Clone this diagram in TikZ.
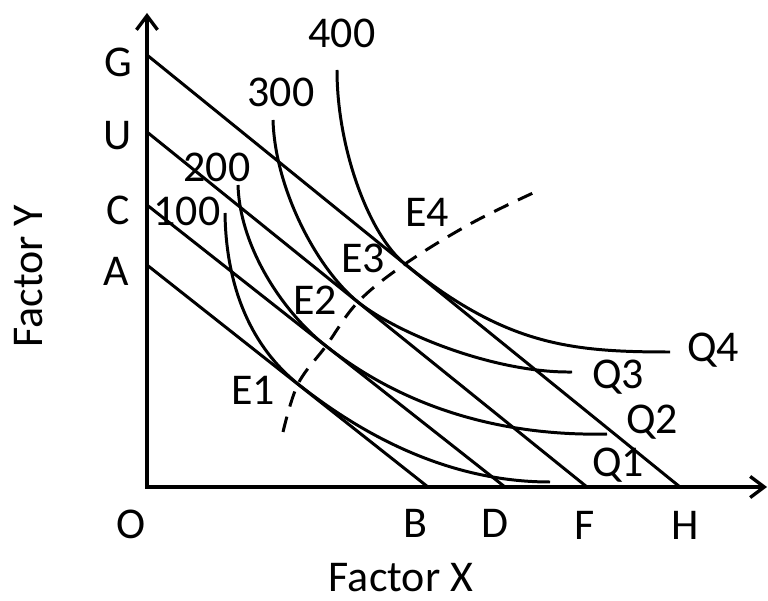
\documentclass[tikz,border=0pt]{standalone}
\usepackage{fontspec}
\setmainfont{Carlito}
\usetikzlibrary{arrows.meta}

\begin{document}
\begin{tikzpicture}[
  x=0.02cm, y=-0.02cm,
  axis/.style    = {line width=1.9pt, line join=miter,
                    {Straight Barb[length=8pt,width=12pt]}-{Straight Barb[length=8pt,width=12pt]}},
  budget/.style  = {line width=1.7pt},
  iso/.style     = {line width=1.7pt},
  exppath/.style = {line width=1.7pt, dash pattern=on 9pt off 6pt},
  lbl/.style     = {inner sep=0pt, font=\fontsize{25}{30}\selectfont},
]
  \useasboundingbox (0,0) rectangle (768,601);

  % Axes
  \coordinate (O)    at (147,487);
  \coordinate (ytop) at (147,13);
  \coordinate (xend) at (767,487);
  \draw[axis] (ytop) -- (O) -- (xend);

  % Isocost lines
  \coordinate (A) at (147,265); \coordinate (B) at (428,487);
  \coordinate (C) at (147,205); \coordinate (D) at (505,487);
  \coordinate (U) at (147,132); \coordinate (F) at (587,487);
  \coordinate (G) at (147,55);  \coordinate (H) at (680,487);
  \draw[budget] (A) -- (B);
  \draw[budget] (C) -- (D);
  \draw[budget] (U) -- (F);
  \draw[budget] (G) -- (H);

  % Points of tangency
  \coordinate (E1) at (298,384);
  \coordinate (E2) at (326,346);
  \coordinate (E3) at (358,302);
  \coordinate (E4) at (405,264);

  % Isoquants
  \coordinate (q1top) at (225,213); \coordinate (q1end) at (550,482);
  \coordinate (q2top) at (238,185); \coordinate (q2end) at (607,434);
  \coordinate (q3top) at (273,120); \coordinate (q3end) at (572,372);
  \coordinate (q4top) at (337,70);  \coordinate (q4end) at (670,352);
  \draw[iso] (q1top) .. controls (226,290) and (253,348) .. (E1)
                     .. controls (375,445) and (460,482) .. (q1end);
  \draw[iso] (q2top) .. controls (240,250) and (286,315) .. (E2)
                     .. controls (416,417) and (520,436) .. (q2end);
  \draw[iso] (q3top) .. controls (275,190) and (318,270) .. (E3)
                     .. controls (398,334) and (495,373) .. (q3end);
  \draw[iso] (q4top) .. controls (337,150) and (370,236) .. (E4)
                     .. controls (505,345) and (570,352) .. (q4end);

  % Expansion path
  \coordinate (pstart) at (283,432);
  \coordinate (pmid)   at (470,224);
  \coordinate (pend)   at (533,193);
  \draw[exppath] plot[smooth, tension=0.6] coordinates
    {(pstart) (E1) (E2) (E3) (E4) (pmid) (pend)};

  % Labels
  \node[lbl] (lG) at (118,62)  {G};
  \node[lbl] (lU) at (118,136) {U};
  \node[lbl] (lC) at (118,210) {C};
  \node[lbl] (lA) at (116,271) {A};
  \node[lbl] (lO) at (131,524) {O};
  \node[lbl] (lB) at (415,523) {B};
  \node[lbl] (lD) at (495,523) {D};
  \node[lbl] (lF) at (585,525) {F};
  \node[lbl] (lH) at (685,525) {H};
  \node[lbl] (n100) at (187,211) {100};
  \node[lbl] (n200) at (217,167) {200};
  \node[lbl] (n300) at (281,92)  {300};
  \node[lbl] (n400) at (342,33)  {400};
  \node[lbl] (lQ1) at (618,465) {Q1};
  \node[lbl] (lQ2) at (652,422) {Q2};
  \node[lbl] (lQ3) at (618,377) {Q3};
  \node[lbl] (lQ4) at (713,350) {Q4};
  \node[lbl] (lE1) at (253,390) {E1};
  \node[lbl] (lE2) at (315,300) {E2};
  \node[lbl] (lE3) at (363,258) {E3};
  \node[lbl] (lE4) at (427,212) {E4};
  \node[lbl] (xlab) at (401,578) {Factor X};
  \node[lbl, rotate=90] (ylab) at (29,276) {Factor Y};
\end{tikzpicture}
\end{document}
